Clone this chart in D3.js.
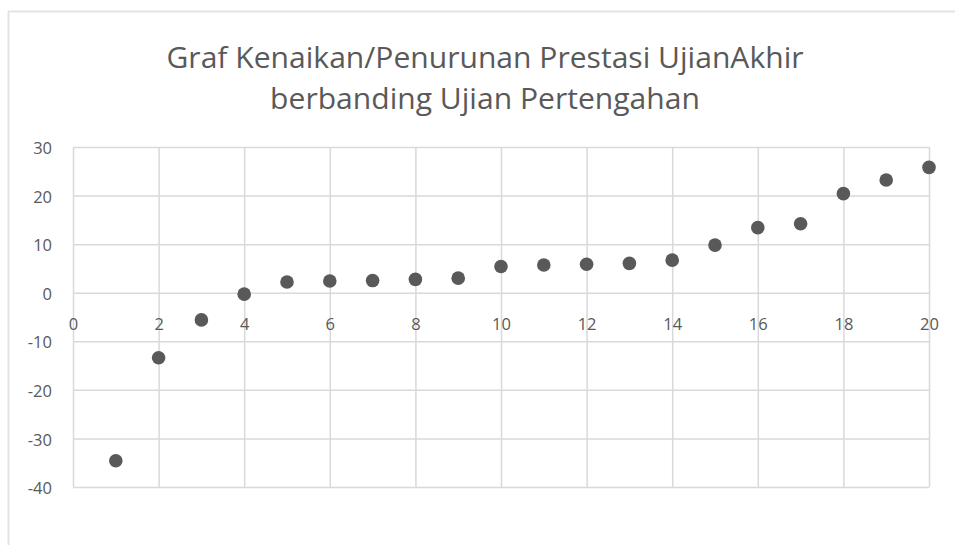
<!DOCTYPE html>
<html>
<head>
<meta charset="utf-8">
<script src="https://cdn.jsdelivr.net/npm/d3@7"></script>
<style>
  html, body { margin: 0; padding: 0; background: #fff; }
  svg { display: block; }
</style>
</head>
<body>
<svg id="chart" width="955" height="545"></svg>
<script>
// Student index and change in score (final exam minus mid-term exam)
const students = [1, 2, 3, 4, 5, 6, 7, 8, 9, 10, 11, 12, 13, 14, 15, 16, 17, 18, 19, 20];
const changes = [-34.6, -13.4, -5.6, -0.3, 2.2, 2.4, 2.5, 2.75, 3.0, 5.4, 5.7, 5.85, 6.05, 6.7, 9.8, 13.4, 14.2, 20.4, 23.2, 25.8];
const xTicks = [0, 2, 4, 6, 8, 10, 12, 14, 16, 18, 20];
const yTicks = [30, 20, 10, 0, -10, -20, -30, -40];
const titleLines = ["Graf Kenaikan/Penurunan Prestasi UjianAkhir", "berbanding Ujian Pertengahan"];

const svg = d3.select("#chart");
const W = 955, H = 545;
const plot = { left: 73, right: 929, top: 147, bottom: 487 };
const gridColor = "#d9d9d9";
const textColor = "#595959";
const font = "'Open Sans', 'Noto Sans', Arial, sans-serif";
const plainNum = d => String(d); // hyphen-minus for negatives

// outer chart frame (top and left edges visible)
svg.append("line").attr("x1", 8).attr("x2", W).attr("y1", 11.5).attr("y2", 11.5)
  .attr("stroke", "#e3e3e3").attr("stroke-width", 2);
svg.append("line").attr("x1", 8.5).attr("x2", 8.5).attr("y1", 11).attr("y2", H)
  .attr("stroke", "#e3e3e3").attr("stroke-width", 2);

const x = d3.scaleLinear().domain([0, 20]).range([plot.left, plot.right]);
const y = d3.scaleLinear().domain([-40, 30]).range([plot.bottom, plot.top]);

// vertical gridlines
svg.append("g")
  .attr("transform", `translate(0,${plot.bottom})`)
  .call(d3.axisBottom(x).tickValues(xTicks).tickSize(-(plot.bottom - plot.top)).tickFormat(""))
  .call(g => g.select(".domain").remove())
  .call(g => g.selectAll("line").attr("stroke", gridColor).attr("stroke-width", 1.5));

// horizontal gridlines
svg.append("g")
  .attr("transform", `translate(${plot.left},0)`)
  .call(d3.axisLeft(y).tickValues(yTicks).tickSize(-(plot.right - plot.left)).tickFormat(""))
  .call(g => g.select(".domain").remove())
  .call(g => g.selectAll("line").attr("stroke", gridColor).attr("stroke-width", 1.5));

// y tick labels
svg.append("g")
  .attr("transform", `translate(${plot.left},0)`)
  .call(d3.axisLeft(y).tickValues(yTicks).tickSize(0).tickPadding(21).tickFormat(plainNum))
  .call(g => g.select(".domain").remove())
  .call(g => g.selectAll("text").attr("fill", textColor).attr("font-size", 16.5)
    .attr("font-family", font).attr("dy", "0.4em"));

// x tick labels placed below the zero line
svg.append("g")
  .attr("transform", `translate(0,${y(0)})`)
  .call(d3.axisBottom(x).tickValues(xTicks).tickSize(0).tickPadding(31).tickFormat(plainNum))
  .call(g => g.select(".domain").remove())
  .call(g => g.selectAll("text").attr("fill", textColor).attr("font-size", 16.5)
    .attr("font-family", font).attr("dy", "0.36em"));

// data points
svg.append("g")
  .selectAll("circle")
  .data(students)
  .join("circle")
  .attr("cx", d => x(d))
  .attr("cy", (d, i) => y(changes[i]))
  .attr("r", 6.8)
  .attr("fill", textColor);

// title
svg.append("g")
  .selectAll("text")
  .data(titleLines)
  .join("text")
  .attr("transform", (d, i) => `translate(485,${68 + i * 41}) scale(1.02,1)`)
  .attr("text-anchor", "middle")
  .attr("fill", textColor)
  .attr("font-size", 29.5)
  .attr("font-family", font)
  .text(d => d);
</script>
</body>
</html>
